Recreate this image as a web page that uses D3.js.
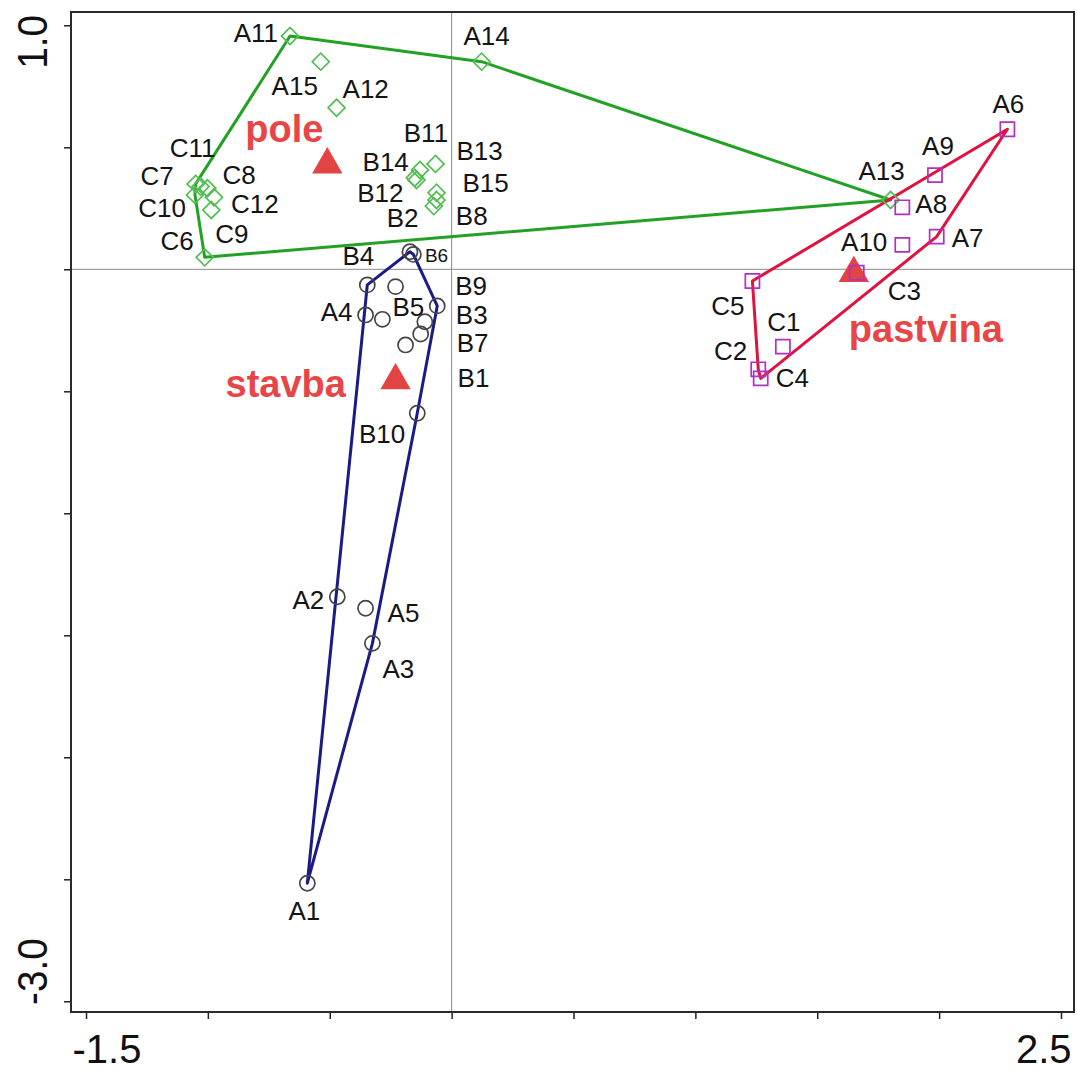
<!DOCTYPE html>
<html>
<head>
<meta charset="utf-8">
<script src="https://cdn.jsdelivr.net/npm/d3@7/dist/d3.min.js"></script>
<style>
  body { margin: 0; background: #fff; }
  svg { display: block; font-family: "Liberation Sans", Arial, sans-serif; }
</style>
</head>
<body>
<script>
'use strict';

// sample scores on the first two ordination axes, by land use group
const poleNames = ['A11', 'A12', 'A13', 'A14', 'A15', 'B2', 'B8', 'B11', 'B12', 'B13', 'B14', 'B15',
  'C6', 'C7', 'C8', 'C9', 'C10', 'C11', 'C12'];
const poleAx1 = [-0.663, -0.472, 1.801, 0.123, -0.537, -0.062, -0.073, -0.130, -0.144, -0.066, -0.151, -0.062,
  -1.013, -1.050, -1.002, -0.986, -1.053, -1.030, -0.975];
const poleAx2 = [0.956, 0.662, 0.284, 0.851, 0.851, 0.284, 0.259, 0.407, 0.366, 0.432, 0.375, 0.314,
  0.049, 0.350, 0.332, 0.243, 0.305, 0.339, 0.295];

const stavbaNames = ['A1', 'A2', 'A3', 'A4', 'A5', 'B1', 'B3', 'B4', 'B5', 'B6', 'B7', 'B9', 'B10', '', ''];
const stavbaAx1 = [-0.592, -0.469, -0.325, -0.353, -0.353, -0.189, -0.110, -0.346, -0.284, -0.171, -0.127, -0.059, -0.141, -0.157, -0.230];
const stavbaAx2 = [-2.516, -1.342, -1.533, -0.187, -1.389, -0.310, -0.215, -0.064, -0.205, 0.072, -0.265, -0.150, -0.590, 0.061, -0.071];

const pastvinaNames = ['A6', 'A7', 'A8', 'A9', 'A10', 'C1', 'C2', 'C3', 'C4', 'C5'];
const pastvinaAx1 = [2.280, 1.990, 1.849, 1.983, 1.849, 1.359, 1.258, 1.662, 1.268, 1.234];
const pastvinaAx2 = [0.574, 0.134, 0.254, 0.386, 0.100, -0.317, -0.410, -0.014, -0.447, -0.048];

// group centroids
const groupNames = ['pole', 'stavba', 'pastvina'];
const centroidAx1 = [-0.510, -0.230, 1.650];
const centroidAx2 = [0.429, -0.456, -0.016];

const xTicks = [-1.5, -1.0, -0.5, 0, 0.5, 1.0, 1.5, 2.0, 2.5];
const yTicks = [1.0, 0.5, 0, -0.5, -1.0, -1.5, -2.0, -2.5, -3.0];
const xTickLabels = ['-1.5', '', '', '', '', '', '', '', '2.5'];
const yTickLabels = ['1.0', '', '', '', '', '', '', '', '-3.0'];

// label placement relative to its point: [dx, dy, anchor]
const labelOffset = {
  A11: [-12, 6, 'end'], A15: [-26, 33, 'middle'], A12: [6, -10, 'start'], A14: [5, -17, 'middle'],
  A13: [-9, -20, 'middle'], B11: [6, -28, 'middle'], B13: [21, -4, 'start'], B14: [-6, -7, 'end'],
  B12: [-13, 22, 'end'], B15: [26, -1, 'start'], B8: [22, 19, 'start'], B2: [-18, 27, 'end'],
  C11: [-8, -30, 'middle'], C7: [-22, 1, 'end'], C8: [15, -4, 'start'], C10: [-9, 22, 'end'],
  C12: [17, 16, 'start'], C9: [4, 33, 'start'], C6: [-11, -7, 'end'],
  B6: [15, 10, 'start'], B4: [7, -20, 'end'], B5: [10, -3, 'start'], B9: [18, -11, 'start'],
  A4: [-13, 6, 'end'], B3: [31, 2, 'start'], B7: [36, 18, 'start'], B1: [52, 42, 'start'],
  B10: [-12, 30, 'end'], A2: [-13, 12, 'end'], A5: [22, 14, 'start'], A3: [10, 35, 'start'],
  A1: [-3, 37, 'middle'],
  A6: [1, -16, 'middle'], A9: [3, -20, 'middle'], A8: [13, 6, 'start'], A7: [15, 10, 'start'],
  A10: [-15, 6, 'end'], C3: [31, 27, 'start'], C5: [-8, 34, 'end'], C1: [1, -16, 'middle'],
  C2: [-11, -9, 'end'], C4: [15, 9, 'start']
};
const groupLabelOffset = { pole: [-82, -23], stavba: [-170, 16], pastvina: [-5, 69] };

const groupStyle = {
  pole: { hull: '#22a124', mark: '#52be52', symbol: 'diamond' },
  stavba: { hull: '#1b1b87', mark: '#454545', symbol: 'circle' },
  pastvina: { hull: '#e2123f', mark: '#b22fc2', symbol: 'square' }
};

const W = 1077, H = 1070;
const frame = { left: 71, top: 12, right: 1074, bottom: 1012 };

const x = d3.scaleLinear().domain([-1.5, 2.5]).range([86, 1061]);
const y = d3.scaleLinear().domain([1.0, -3.0]).range([25.3, 1001.3]);

function samples(names, ax1, ax2, group) {
  return names.map((n, i) => ({ name: n, ax1: ax1[i], ax2: ax2[i], group: group }));
}
const data = {
  pole: samples(poleNames, poleAx1, poleAx2, 'pole'),
  stavba: samples(stavbaNames, stavbaAx1, stavbaAx2, 'stavba'),
  pastvina: samples(pastvinaNames, pastvinaAx1, pastvinaAx2, 'pastvina')
};
const allSamples = [].concat(data.pole, data.stavba, data.pastvina);

const svg = d3.select('body').append('svg').attr('width', W).attr('height', H);

// zero lines
svg.append('line')
  .attr('x1', x(0)).attr('x2', x(0)).attr('y1', frame.top).attr('y2', frame.bottom)
  .attr('stroke', '#8a8a8a').attr('stroke-width', 1);
svg.append('line')
  .attr('x1', frame.left).attr('x2', frame.right).attr('y1', y(0)).attr('y2', y(0))
  .attr('stroke', '#8a8a8a').attr('stroke-width', 1);

// axes
const xAxis = svg.append('g')
  .attr('transform', `translate(0,${frame.bottom})`)
  .call(d3.axisBottom(x).tickValues(xTicks).tickSize(7).tickFormat((d, i) => xTickLabels[i]));
xAxis.select('.domain').remove();
xAxis.selectAll('.tick line').attr('stroke', '#222').attr('stroke-width', 1.5);
xAxis.selectAll('.tick text')
  .attr('font-size', 40).attr('fill', '#111').attr('y', 51).attr('dy', 0)
  .attr('font-family', '"Liberation Sans", Arial, sans-serif')
  .attr('text-anchor', (d, i) => i === 0 ? 'start' : 'end')
  .attr('x', (d, i) => i === 0 ? frame.left - x(d) + 1 : frame.right - x(d) - 3);

const yAxis = svg.append('g')
  .attr('transform', `translate(${frame.left},0)`)
  .call(d3.axisLeft(y).tickValues(yTicks).tickSize(7).tickFormat(''));
yAxis.select('.domain').remove();
yAxis.selectAll('.tick line').attr('stroke', '#222').attr('stroke-width', 1.5);

yTickLabels.forEach((lab, i) => {
  if (!lab) return;
  const top = i === 0;
  svg.append('text')
    .attr('transform', `translate(47,${top ? frame.top + 3 : frame.bottom - 7}) rotate(-90) scale(0.9,1)`)
    .attr('text-anchor', top ? 'end' : 'start')
    .attr('font-size', 43).attr('fill', '#111')
    .text(lab);
});

// frame
svg.append('rect')
  .attr('x', frame.left).attr('y', frame.top)
  .attr('width', frame.right - frame.left).attr('height', frame.bottom - frame.top)
  .attr('fill', 'none').attr('stroke', '#2a2a2a').attr('stroke-width', 2);

// convex hulls of the groups
groupNames.forEach((g) => {
  const hull = d3.polygonHull(data[g].map(d => [x(d.ax1), y(d.ax2)]));
  svg.append('path')
    .attr('d', 'M' + hull.join('L') + 'Z')
    .attr('fill', 'none')
    .attr('stroke', groupStyle[g].hull)
    .attr('stroke-width', 3)
    .attr('stroke-linejoin', 'round');
});

// centroids
const centroids = groupNames.map((g, i) => ({ name: g, ax1: centroidAx1[i], ax2: centroidAx2[i] }));
svg.selectAll('.centroid')
  .data(centroids)
  .enter().append('path')
  .attr('class', 'centroid')
  .attr('transform', d => `translate(${x(d.ax1)},${y(d.ax2)})`)
  .attr('d', d3.symbol(d3.symbolTriangle, 400))
  .attr('fill', '#e24444');

// sample marks
const symbolOf = {
  diamond: d3.symbol(d3.symbolSquare, 145)(),
  square: d3.symbol(d3.symbolSquare, 200)(),
  circle: d3.symbol(d3.symbolCircle, 180)()
};
svg.selectAll('.sample')
  .data(allSamples)
  .enter().append('path')
  .attr('class', 'sample')
  .attr('transform', (d) => {
    const rot = groupStyle[d.group].symbol === 'diamond' ? ' rotate(45)' : '';
    return `translate(${x(d.ax1)},${y(d.ax2)})${rot}`;
  })
  .attr('d', d => symbolOf[groupStyle[d.group].symbol])
  .attr('fill', 'none')
  .attr('stroke', d => groupStyle[d.group].mark)
  .attr('stroke-width', 1.7);

// sample labels
svg.selectAll('.label')
  .data(allSamples.filter(d => d.name && labelOffset[d.name]))
  .enter().append('text')
  .attr('class', 'label')
  .attr('x', d => x(d.ax1) + labelOffset[d.name][0])
  .attr('y', d => y(d.ax2) + labelOffset[d.name][1])
  .attr('text-anchor', d => labelOffset[d.name][2])
  .attr('font-size', d => d.name === 'B6' ? 19 : 26)
  .attr('fill', '#141414')
  .text(d => d.name);

// group labels
svg.selectAll('.group-label')
  .data(centroids)
  .enter().append('text')
  .attr('class', 'group-label')
  .attr('x', d => x(d.ax1) + groupLabelOffset[d.name][0])
  .attr('y', d => y(d.ax2) + groupLabelOffset[d.name][1])
  .attr('font-size', 38)
  .attr('font-weight', 'bold')
  .attr('fill', '#e84646')
  .text(d => d.name);
</script>
</body>
</html>
